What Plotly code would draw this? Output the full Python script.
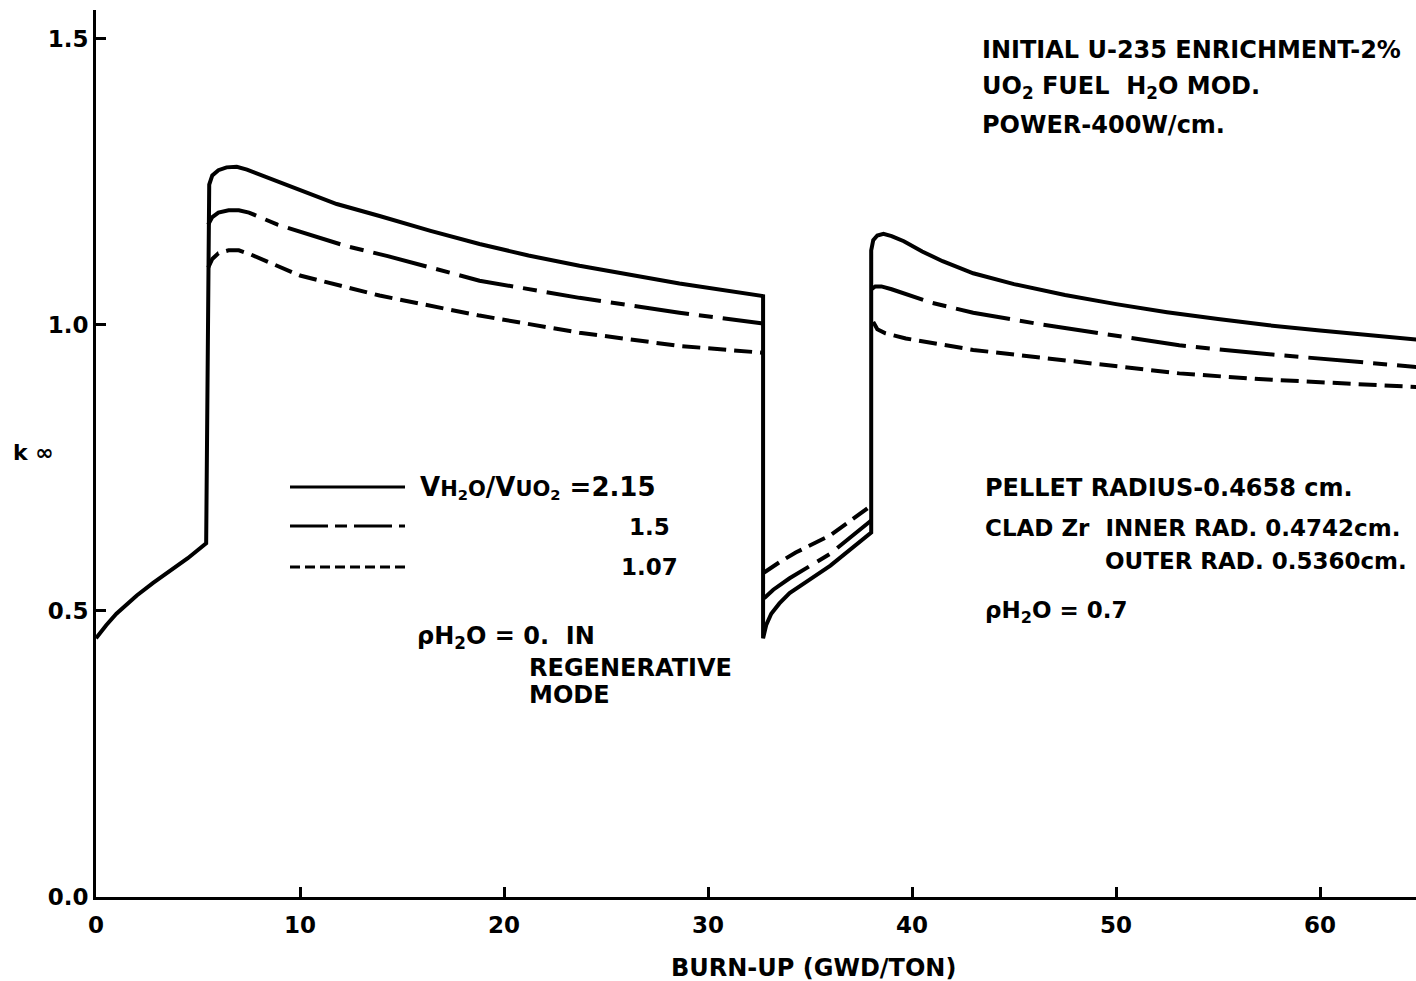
import plotly.graph_objects as go

# ---------------- data ----------------
# V_H2O/V_UO2 = 2.15 (solid)
burnup_215 = [0, 0.5, 1.0, 1.5, 2.0, 2.8, 3.6, 4.5, 5.4,
              5.5, 5.55, 5.7, 6.0, 6.4, 6.9, 7.4, 8.0, 9.0, 10.0, 11.8, 13.9, 16.4, 18.8, 21.2, 23.7, 26.1, 28.6, 32.7,
              32.7, 32.85, 33.1, 33.5, 34.0, 35.0, 36.0, 38.0,
              38.0, 38.1, 38.3, 38.6, 39.0, 39.6, 40.5, 41.5, 43.0, 45.0, 47.5, 50.0, 52.5, 55.0, 57.5, 60.0, 62.5, 64.8]
kinf_215 = [0.452, 0.475, 0.495, 0.512, 0.527, 0.549, 0.569, 0.592, 0.618,
            1.222, 1.245, 1.261, 1.270, 1.275, 1.276, 1.271, 1.263, 1.249, 1.236, 1.211, 1.190, 1.164, 1.141, 1.121, 1.103, 1.087, 1.072, 1.050,
            0.452, 0.475, 0.495, 0.513, 0.531, 0.555, 0.579, 0.637,
            1.130, 1.148, 1.156, 1.159, 1.155, 1.146, 1.128, 1.111, 1.090, 1.071, 1.052, 1.036, 1.022, 1.010, 0.999, 0.990, 0.981, 0.974]

# V_H2O/V_UO2 = 1.5 (long dash - short dash)
burnup_150 = [5.5, 5.7, 6.0, 6.5, 7.0, 7.5, 8.9, 12.3, 14.3, 18.8, 23.7, 28.6, 32.7, None,
              32.75, 33.2, 34.0, 36.0, 38.0, None,
              38.0, 38.2, 38.5, 39.0, 40.9, 43.0, 46.1, 50.0, 53.1, 57.0, 60.0, 64.8]
kinf_150 = [1.175, 1.188, 1.196, 1.200, 1.200, 1.196, 1.175, 1.137, 1.120, 1.077, 1.047, 1.021, 1.002, None,
            0.522, 0.537, 0.557, 0.600, 0.658, None,
            1.062, 1.067, 1.067, 1.062, 1.039, 1.021, 1.002, 0.980, 0.964, 0.950, 0.941, 0.926]

# V_H2O/V_UO2 = 1.07 (dashed)
burnup_107 = [5.5, 5.7, 6.0, 6.5, 7.0, 7.5, 10.0, 13.9, 18.8, 23.7, 28.6, 32.7, None,
              32.75, 33.5, 34.3, 36.0, 38.0, None,
              38.1, 38.3, 38.7, 39.7, 43.0, 46.1, 50.0, 53.1, 57.0, 60.0, 64.8]
kinf_107 = [1.100, 1.115, 1.125, 1.130, 1.130, 1.124, 1.086, 1.051, 1.016, 0.986, 0.963, 0.951, None,
            0.567, 0.585, 0.602, 0.632, 0.684, None,
            1.005, 0.992, 0.985, 0.976, 0.956, 0.943, 0.927, 0.915, 0.905, 0.899, 0.891]

x_ticks = [0, 10, 20, 30, 40, 50, 60]
x_tick_labels = ["0", "10", "20", "30", "40", "50", "60"]
y_ticks = [0.0, 0.5, 1.0, 1.5]
y_tick_labels = ["0.0", "0.5", "1.0", "1.5"]

# ---------------- styling ----------------
W, H = 1416, 981
ML, MR, MT, MB = 96, 0, 10, 84
PW, PH = W - ML - MR, H - MT - MB
FONT = "DejaVu Sans"
LW = 4
DASHDOT = "55px,10px,14px,10px"
DASHED = "18px,8px"


def px(xp):
    return (xp - ML) / PW


def py(yp):
    return (H - MB - yp) / PH


fig = go.Figure()
fig.add_trace(go.Scatter(x=burnup_215, y=kinf_215, mode="lines",
                         line=dict(color="black", width=LW), showlegend=False, hoverinfo="skip"))
fig.add_trace(go.Scatter(x=burnup_150, y=kinf_150, mode="lines", connectgaps=False,
                         line=dict(color="black", width=LW, dash=DASHDOT), showlegend=False, hoverinfo="skip"))
fig.add_trace(go.Scatter(x=burnup_107, y=kinf_107, mode="lines", connectgaps=False,
                         line=dict(color="black", width=LW, dash=DASHED), showlegend=False, hoverinfo="skip"))

# hand-drawn style legend samples
legend_samples = [(487, None), (526, "38px,7px,12px,7px"), (567, "10px,5px")]
for yp, dash in legend_samples:
    ln = dict(color="black", width=3)
    if dash:
        ln["dash"] = dash
    fig.add_shape(type="line", xref="paper", yref="paper",
                  x0=px(290), x1=px(405), y0=py(yp), y1=py(yp), line=ln)

annotations = [
    ("INITIAL U-235 ENRICHMENT-2%", 980, 50, 24),
    ("UO<sub>2</sub> FUEL  H<sub>2</sub>O MOD.", 980, 88, 24),
    ("POWER-400W/cm.", 980, 125, 24),
    ("V<span style='font-size:21px'>H<sub>2</sub>O</span>/V<span style='font-size:21px'>UO<sub>2</sub></span> =2.15", 418, 487, 26),
    ("1.5", 627, 527, 23),
    ("1.07", 619, 567, 23),
    ("ρH<sub>2</sub>O = 0.  IN", 415, 637, 24),
    ("REGENERATIVE", 527, 668, 24),
    ("MODE", 527, 695, 24),
    ("PELLET RADIUS-0.4658 cm.", 983, 488, 24),
    ("CLAD Zr  INNER RAD. 0.4742cm.", 983, 528, 23),
    ("OUTER RAD. 0.5360cm.", 1103, 561, 23),
    ("ρH<sub>2</sub>O = 0.7", 983, 612, 23),
    ("k ∞", 11, 452, 22),
]
for text, xl, yc, fs in annotations:
    fig.add_annotation(text=text, xref="paper", yref="paper",
                       x=px(xl), y=py(yc), xanchor="left", yanchor="middle",
                       showarrow=False, font=dict(family=FONT, size=fs, color="black", weight="bold"))

fig.add_annotation(text="BURN-UP (GWD/TON)", xref="paper", yref="paper",
                   x=px(813), y=py(968), xanchor="center", yanchor="middle",
                   showarrow=False, font=dict(family=FONT, size=24, color="black", weight="bold"))

fig.update_layout(
    width=W, height=H,
    margin=dict(l=ML, r=MR, t=MT, b=MB, autoexpand=False),
    paper_bgcolor="white", plot_bgcolor="white",
    showlegend=False,
    xaxis=dict(range=[0, PW / 20.4], tickvals=x_ticks, ticktext=x_tick_labels,
               showline=True, linewidth=3, linecolor="black", ticks="inside",
               ticklen=10, tickwidth=3, tickcolor="black", showgrid=False, zeroline=False,
               tickfont=dict(family=FONT, size=23, color="black", weight="bold"), ticklabelstandoff=5),
    yaxis=dict(range=[0, 1.55], tickvals=y_ticks, ticktext=y_tick_labels,
               showline=True, linewidth=3, linecolor="black", ticks="inside",
               ticklen=10, tickwidth=3, tickcolor="black", showgrid=False, zeroline=False,
               tickfont=dict(family=FONT, size=23, color="black", weight="bold")),
)

fig.write_html("out.html", config={"displayModeBar": False},
               post_script="document.body.style.margin='0';")
